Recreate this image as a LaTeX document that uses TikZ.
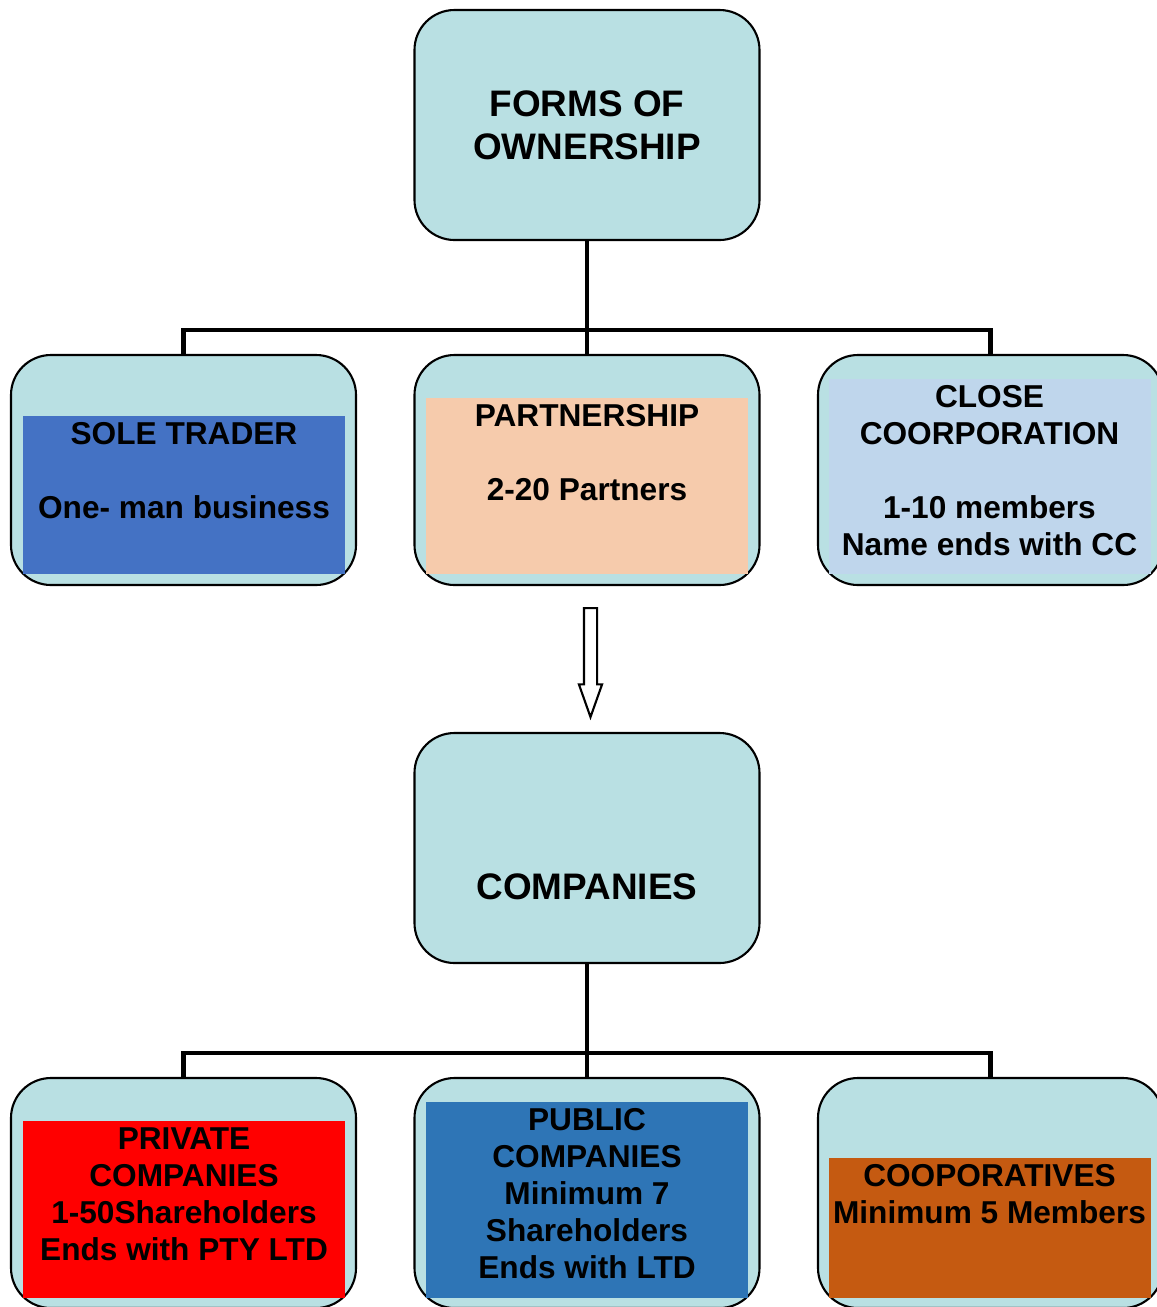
\documentclass[tikz,border=0pt]{standalone}
\usepackage{fontspec}
\setmainfont{Liberation Sans}
\usetikzlibrary{positioning,shapes.arrows}
\definecolor{boxteal}{HTML}{B9E0E3}
\definecolor{soleblue}{HTML}{4472C4}
\definecolor{peach}{HTML}{F6CBAC}
\definecolor{paleblue}{HTML}{BFD6EC}
\definecolor{publicblue}{HTML}{2E75B6}
\definecolor{rust}{HTML}{C55A11}

\begin{document}
\begin{tikzpicture}[
    outerbox/.style={draw, rectangle, rounded corners=0.4cm, fill=boxteal, line width=0.6pt,
        minimum width=3.45cm, minimum height=2.3cm, inner sep=0pt},
    innerbox/.style={rectangle, inner sep=0pt, minimum width=3.22cm, anchor=north},
    bodytext/.style={align=center, font=\fontsize{9}{10.5}\selectfont\bfseries, inner sep=2pt, anchor=north},
    titletext/.style={align=center, font=\fontsize{10.5}{12.2}\selectfont\bfseries},
    link/.style={line width=1.2pt}
]
    \useasboundingbox (0,0) rectangle (11.57,-13.07);

    % top level
    \node[outerbox] (Forms) at (5.87,-1.25) {};
    \node[titletext] (FormsText) at (Forms.center) {FORMS OF\\OWNERSHIP};

    \node[outerbox] (Sole) at (1.835,-4.70) {};
    \node[outerbox] (Partner) at (5.87,-4.70) {};
    \node[outerbox] (Close) at (9.905,-4.70) {};

    \node[innerbox, fill=soleblue, minimum height=1.58cm] (SoleBox) at (1.84,-4.15) {};
    \node[bodytext] (SoleText) at (SoleBox.north) {SOLE TRADER\\[10.5pt]One- man business};
    \node[innerbox, fill=peach, minimum height=1.76cm] (PartnerBox) at (5.87,-3.97) {};
    \node[bodytext] (PartnerText) at (PartnerBox.north) {PARTNERSHIP\\[10.5pt]2-20 Partners};
    \node[innerbox, fill=paleblue, minimum height=1.95cm] (CloseBox) at (9.895,-3.78) {};
    \node[bodytext] (CloseText) at (CloseBox.north) {CLOSE\\COORPORATION\\[10.5pt]1-10 members\\Name ends with CC};

    \coordinate (Bus1) at (5.87,-3.30);
    \draw[link] (Forms.south) -- (Bus1);
    \draw[link] (Bus1) -| (Sole.north);
    \draw[link] (Bus1) -- (Partner.north);
    \draw[link] (Bus1) -| (Close.north);

    % block arrow down to companies
    \node[single arrow, draw, fill=white, rotate=-90, anchor=tail, line width=0.6pt, minimum height=1.09cm,
        inner sep=0.055cm, single arrow head extend=0.05cm, single arrow tip angle=39] (Down) at (5.905,-6.07) {};

    % companies
    \node[outerbox] (Comp) at (5.87,-8.48) {};
    \node[titletext] (CompText) at (5.87,-8.87) {COMPANIES};

    \node[outerbox] (Private) at (1.835,-11.93) {};
    \node[outerbox] (Public) at (5.87,-11.93) {};
    \node[outerbox] (Coop) at (9.905,-11.93) {};

    \node[innerbox, fill=red, minimum height=1.77cm] (PrivateBox) at (1.84,-11.20) {};
    \node[bodytext] (PrivateText) at (PrivateBox.north) {PRIVATE\\COMPANIES\\1-50Shareholders\\Ends with PTY LTD};
    \node[innerbox, fill=publicblue, minimum height=1.96cm] (PublicBox) at (5.87,-11.01) {};
    \node[bodytext] (PublicText) at (PublicBox.north) {PUBLIC\\COMPANIES\\Minimum 7\\Shareholders\\Ends with LTD};
    \node[innerbox, fill=rust, minimum height=1.40cm] (CoopBox) at (9.895,-11.57) {};
    \node[bodytext] (CoopText) at (CoopBox.north) {COOPORATIVES\\Minimum 5 Members};

    \coordinate (Bus2) at (5.87,-10.53);
    \draw[link] (Comp.south) -- (Bus2);
    \draw[link] (Bus2) -| (Private.north);
    \draw[link] (Bus2) -- (Public.north);
    \draw[link] (Bus2) -| (Coop.north);
\end{tikzpicture}
\end{document}
